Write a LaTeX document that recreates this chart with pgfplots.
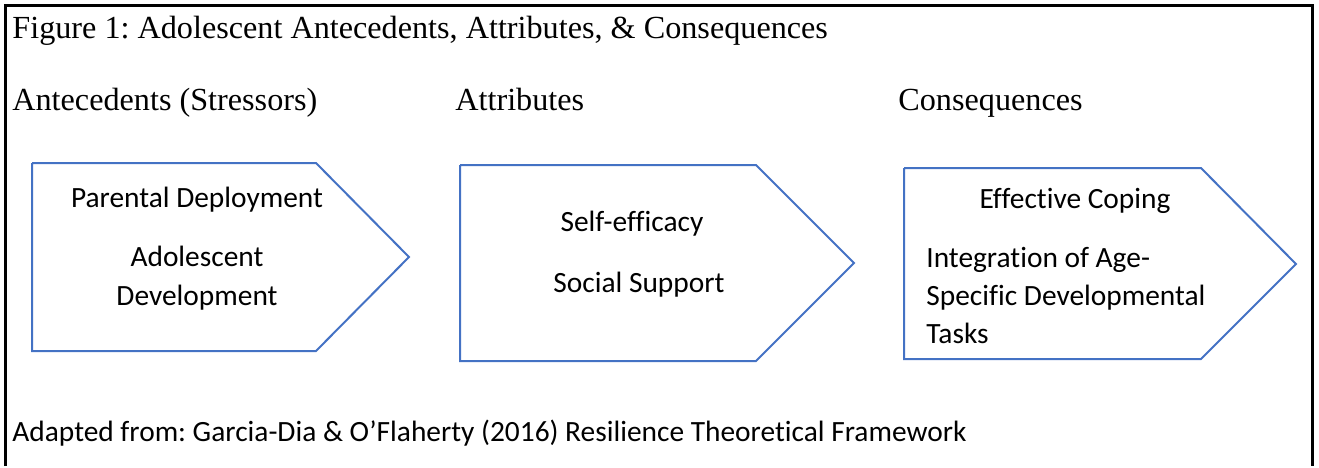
\documentclass[border=0pt]{standalone}
\usepackage{pgfplots}
\pgfplotsset{compat=1.18}
\usepackage{fontspec}
\setmainfont{Liberation Serif}
\newfontfamily\calfont[Ligatures=NoCommon]{Carlito}
\definecolor{boxblue}{HTML}{4472C4}
\frenchspacing
\begin{document}
\frenchspacing
\begin{tikzpicture}
\begin{axis}[
  scale only axis, width=659.5pt, height=233pt,
  xmin=0, xmax=1319, ymin=0, ymax=466, y dir=reverse,
  hide axis, clip=false]
\path (axis cs:0,0) rectangle (axis cs:1319,466);
% outer frame
\addplot[black, line width=1.5pt, no marks, line join=miter] coordinates {(5,466) (5,5) (1312,5) (1312,466)};
% arrow boxes
\addplot[boxblue, line width=1pt, no marks, line join=miter] coordinates {(32,163) (316,163) (409,257) (316,351) (32,351) (32,163)};
\addplot[boxblue, line width=1pt, no marks, line join=miter] coordinates {(460,165) (756,165) (854,263) (756,361) (460,361) (460,165)};
\addplot[boxblue, line width=1pt, no marks, line join=miter] coordinates {(904,168) (1201,168) (1296,264) (1201,359) (904,359) (904,168)};
% headings
\node[anchor=base west, inner sep=0pt, font=\fontsize{16.1}{19}\selectfont] at (axis cs:12,38) {\frenchspacing Figure 1: Adolescent Antecedents, Attributes, \& Consequences};
\node[anchor=base west, inner sep=0pt, font=\fontsize{16.1}{19}\selectfont] at (axis cs:12,110) {Antecedents (Stressors)};
\node[anchor=base west, inner sep=0pt, font=\fontsize{16.1}{19}\selectfont] at (axis cs:455,110) {Attributes};
\node[anchor=base west, inner sep=0pt, font=\fontsize{16.1}{19}\selectfont] at (axis cs:898,110) {Consequences};
% box texts
\node[anchor=base, inner sep=0pt, font=\calfont\fontsize{14.7}{17}\selectfont] at (axis cs:197,207) {Parental Deployment};
\node[anchor=base, inner sep=0pt, font=\calfont\fontsize{14.7}{17}\selectfont] at (axis cs:197,266) {Adolescent};
\node[anchor=base, inner sep=0pt, font=\calfont\fontsize{14.7}{17}\selectfont] at (axis cs:197,305) {Development};
\node[anchor=base, inner sep=0pt, font=\calfont\fontsize{14.7}{17}\selectfont] at (axis cs:632,231) {Self-efficacy};
\node[anchor=base, inner sep=0pt, font=\calfont\fontsize{14.7}{17}\selectfont] at (axis cs:639,292) {Social Support};
\node[anchor=base, inner sep=0pt, font=\calfont\fontsize{14.7}{17}\selectfont] at (axis cs:1075,208) {Effective Coping};
\node[anchor=base west, inner sep=0pt, font=\calfont\fontsize{14.7}{17}\selectfont] at (axis cs:926,267) {Integration of Age-};
\node[anchor=base west, inner sep=0pt, font=\calfont\fontsize{14.7}{17}\selectfont] at (axis cs:926,305) {Specific Developmental};
\node[anchor=base west, inner sep=0pt, font=\calfont\fontsize{14.7}{17}\selectfont] at (axis cs:926,343) {Tasks};
% footer
\node[anchor=base west, inner sep=0pt, font=\calfont\fontsize{14.7}{17}\selectfont] at (axis cs:12,441) {\frenchspacing Adapted from: Garcia-Dia \& O’Flaherty (2016) Resilience Theoretical Framework};
\end{axis}
\end{tikzpicture}
\end{document}
